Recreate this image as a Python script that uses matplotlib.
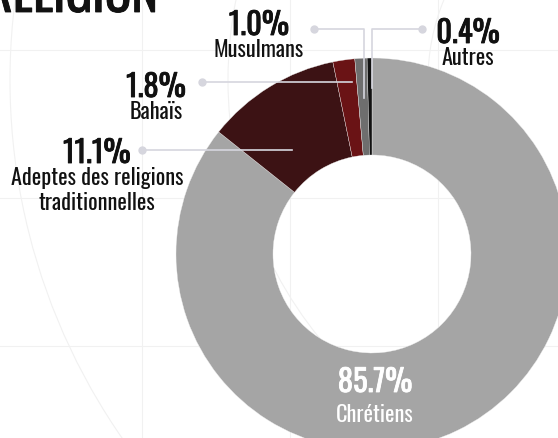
import numpy as np
import matplotlib
matplotlib.use('Agg')
from matplotlib import pyplot as plt
from matplotlib.patches import Circle
import matplotlib.patheffects as pe

# data
labels = ['Chrétiens', 'Adeptes des religions\ntraditionnelles', 'Bahaïs',
          'Musulmans', 'Autres']
values = [85.7, 11.1, 1.8, 1.0, 0.4]
colors = ['#a5a5a5', '#3c1214', '#6a1315', '#6e6e6e', '#111111']
title = 'RELIGION'

W, H = 558, 438
FONT = ['Oswald', 'Roboto Condensed', 'DejaVu Sans']


def Y(y):
    # pixel row -> data y
    return H - y


def bold(color):
    return [pe.withStroke(linewidth=0.6, foreground=color)]


fig = plt.figure(figsize=(W / 100, H / 100), dpi=100)
ax = fig.add_axes([0, 0, 1, 1])

# faint background grid + circles
for gx in [142, 290, 438]:
    ax.plot([gx, gx], [0, H], color='#f1f1f1', lw=0.8, zorder=0)
for gy in [50, 198, 346]:
    ax.plot([0, W], [Y(gy), Y(gy)], color='#f1f1f1', lw=0.8, zorder=0)
for r in [210, 410, 628]:
    ax.add_patch(Circle((638, Y(80)), r, fill=False, ec='#f1f1f1', lw=0.8, zorder=0))

cx, cy, R = 372, 254, 196
ax.pie(values, colors=colors, startangle=90, counterclock=False,
       center=(cx, Y(cy)), radius=R,
       wedgeprops=dict(width=R - 99, edgecolor='#eeeeee', linewidth=0.25))

# outside labels: text centre x, pct baseline y, dot (x, y), line end (x, y)
layout = {
    'Adeptes des religions\ntraditionnelles': (97, 163, (142, 150), (292, 150)),
    'Bahaïs': (156, 97, (202, 82), (352, 82)),
    'Musulmans': (259, 35, (314, 29), (364, 98)),
    'Autres': (468, 43, (422, 29), (372, 88)),
}
line_col = '#d6d6de'
for lab, val in zip(labels, values):
    pct = f'{val:.1f}%'
    if lab not in layout:
        ax.text(375, Y(392), pct, color='white', fontsize=22, family=FONT,
                ha='center', va='baseline', path_effects=bold('white'))
        ax.text(375, Y(422), lab, color='white', fontsize=16,
                family=FONT, ha='center', va='baseline')
        continue
    tx, ty, (dx, dy), (ex, ey) = layout[lab]
    ax.text(tx, Y(ty), pct, color='#111111', fontsize=22, family=FONT,
            ha='center', va='baseline', path_effects=bold('#111111'))
    for i, line in enumerate(lab.split('\n')):
        ax.text(tx, Y(ty + 22 + 25 * i), line, color='#111111', fontsize=16,
                family=FONT, ha='center', va='baseline')
    ax.plot([dx, ex, ex], [Y(dy), Y(dy), Y(ey)], color=line_col, lw=1.2, zorder=5)
    ax.plot(dx, Y(dy), 'o', ms=6, color=line_col, mec='none', zorder=5)

ax.text(158, Y(12), title, fontsize=36, family=FONT, color='#111111',
        ha='right', va='baseline', path_effects=bold('#111111'))

ax.set_xlim(0, W)
ax.set_ylim(0, H)
ax.set_aspect('auto')
ax.axis('off')

fig.savefig('out.png', dpi=100)
